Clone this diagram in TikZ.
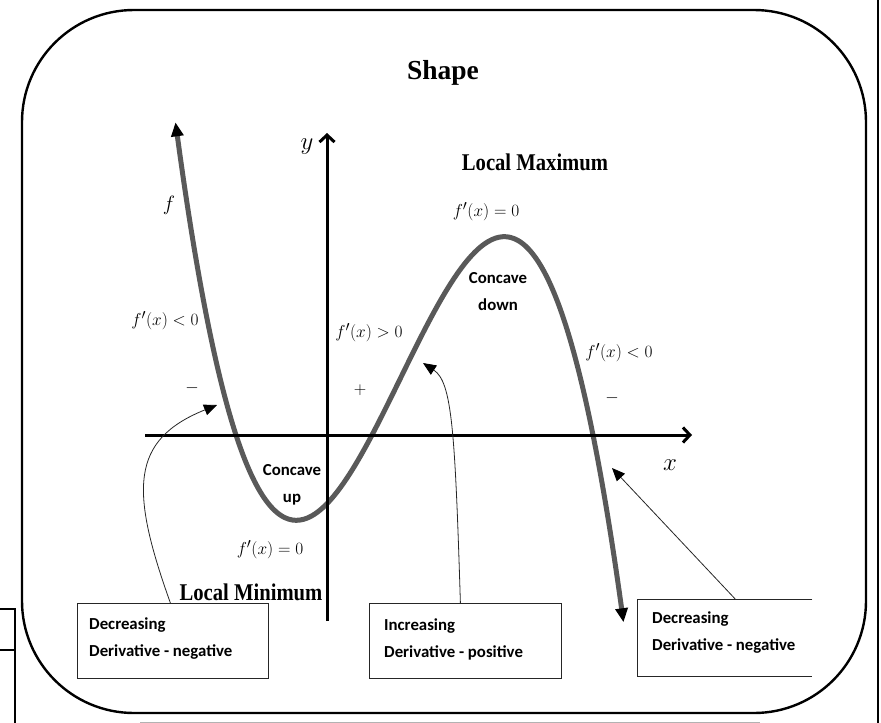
\documentclass[tikz,border=0pt]{standalone}
\usepackage{fontspec}
\usepackage{graphicx}
\setmainfont{Liberation Serif}
\newfontfamily\calib{Carlito}
\usetikzlibrary{arrows.meta}
\begin{document}
\begin{tikzpicture}[x=1pt,y=-1pt,
  axis/.style={line width=3pt,-{Straight Barb[length=7pt,width=15pt]}},
  curvestyle/.style={line width=5pt,draw=black!65,
    {Triangle[length=14pt,width=12pt,color=black]}-{Triangle[length=14pt,width=12pt,color=black]}},
  conn/.style={line width=0.8pt,draw=black!85,-{Triangle[length=13pt,width=11pt,color=black]}},
  boxframe/.style={draw=black!85,line width=0.8pt,inner sep=0pt,anchor=north west},
  boxtext/.style={font=\calib\bfseries\fontsize{16.8}{27}\selectfont,align=left,anchor=north west,inner sep=0pt},
  mlab/.style={font=\fontsize{19}{21}\selectfont},
  biglab/.style={font=\bfseries\fontsize{24}{28}\selectfont},
  concave/.style={font=\calib\bfseries\fontsize{16.8}{27}\selectfont,align=center},
  artifact/.style={line width=1.6pt}]
\useasboundingbox (0,0) rectangle (881,723);
% page artifacts
\draw[artifact] (878,0) -- (878,723);
\draw[artifact] (0,609) -- (15,609) -- (15,723);
\draw[artifact] (0,650) -- (15,650);
\draw[black!30,line width=1pt] (140,722) -- (760,722);
% frame
\draw[line width=2.4pt,rounded corners=112pt] (22,10) rectangle (866,713);
% title
\node[font=\bfseries\fontsize{27.5}{32}\selectfont] (title) at (443,73) {Shape};
% curve
\draw[curvestyle] plot[domain=175.5:623.5,samples=120,smooth]
  (\x,{435+((\x-236)/100)*((\x-372)/100)*((\x-593)/100)*63});
% axes
\coordinate (xl) at (145,435);
\coordinate (xr) at (692,435);
\coordinate (yb) at (327,621);
\coordinate (yt) at (327,133);
\draw[axis] (xl) -- (xr);
\draw[axis] (yb) -- (yt);
\node[font=\fontsize{26}{28}\selectfont] (ylab) at (307,147) {$y$};
\node[font=\fontsize{26}{28}\selectfont] (xlab) at (670,465) {$x$};
\node[font=\fontsize{22}{24}\selectfont] (flab) at (169,205) {$f$};
% math labels
\node[mlab] (d1) at (165,321) {$f'(x) < 0$};
\node[mlab] (d2) at (369,333) {$f'(x) > 0$};
\node[mlab] (d3) at (486,212) {$f'(x) = 0$};
\node[mlab] (d4) at (619,353) {$f'(x) < 0$};
\node[mlab] (d5) at (270,550) {$f'(x) = 0$};
\node[mlab] (s1) at (192,388) {$-$};
\node[mlab] (s2) at (360,390) {$+$};
\node[mlab] (s3) at (612,398) {$-$};
% extrema labels
\node[biglab] (lmax) at (535,162) {\scalebox{0.86}[1]{Local Maximum}};
\node[biglab] (lmin) at (251,592) {\scalebox{0.86}[1]{Local Minimum}};
\node[concave] (cdown) at (498,292) {Concave\\down};
\node[concave] (cup) at (292,485) {Concave\\up};
% boxes
\node[boxframe,minimum width=191pt,minimum height=75pt] (box1) at (77,603) {};
\node[boxtext] (t1) at (89,618) {Decreasing\\Derivative - negative};
\node[boxframe,minimum width=192pt,minimum height=75pt] (box2) at (369,603) {};
\node[boxtext] (t2) at (384,619) {Increasing\\Derivative - positive};
\node[inner sep=0pt,anchor=north west,minimum width=175pt,minimum height=77pt] (box3) at (637,599) {};
\draw[draw=black!85,line width=0.8pt] (box3.north east) -- (box3.north west) -- (box3.south west) -- (box3.south east);
\node[boxtext] (t3) at (652,612) {Decreasing\\Derivative - negative};
% connectors
\coordinate (p1) at (217,405);
\coordinate (p2) at (423,363);
\coordinate (p3) at (612,468);
\draw[conn] ([xshift=-2.5pt]box1.north) .. controls (130,490) and (130,440) .. (p1);
\draw[conn] ([xshift=-5pt]box2.north) .. controls (455,430) and (452,382) .. (p2);
\draw[conn] ([xshift=10.5pt]box3.north) -- (p3);
\end{tikzpicture}
\end{document}
